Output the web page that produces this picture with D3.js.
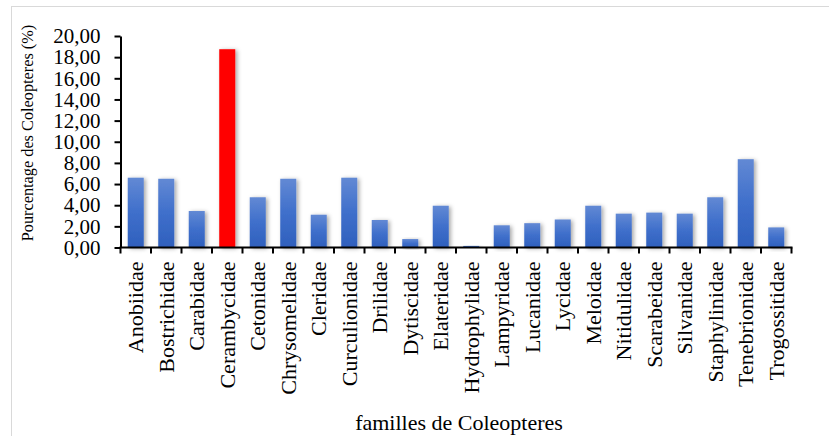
<!DOCTYPE html>
<html><head><meta charset="utf-8">
<script src="https://cdn.jsdelivr.net/npm/d3@7"></script>
<style>html,body{margin:0;padding:0;background:#fff;}svg{display:block;}</style>
</head><body>
<svg id="chart" width="829" height="436"></svg>
<script>
const categories = ["Anobiidae","Bostrichidae","Carabidae","Cerambycidae","Cetonidae","Chrysomelidae","Cleridae","Curculionidae","Drilidae","Dytiscidae","Elateridae","Hydrophylidae","Lampyridae","Lucanidae","Lycidae","Meloidae","Nitidulidae","Scarabeidae","Silvanidae","Staphylinidae","Tenebrionidae","Trogossitidae"];
const values = [6.6,6.5,3.45,18.75,4.75,6.5,3.1,6.6,2.6,0.8,3.95,0.15,2.1,2.3,2.65,3.95,3.2,3.3,3.2,4.75,8.35,1.9];
const highlight = ["Cerambycidae"];
const yTicks = [0,2,4,6,8,10,12,14,16,18,20];
const yTitle = "Pourcentage des Coleopteres (%)";
const xTitle = "familles de Coleopteres";

(function(){
const svg = d3.select("#chart");
const pL = 120.5, pR = 791.5, pT = 36, pB = 247.5;
const font = "'Liberation Serif','Times New Roman',serif";

// outer border
svg.append("rect").attr("x",11.5).attr("y",6.5).attr("width",840).attr("height",440)
  .attr("fill","none").attr("stroke","#d9d9d9").attr("stroke-width",1);

const defs = svg.append("defs");
const grad = defs.append("linearGradient").attr("id","bg").attr("x1",0).attr("y1",0).attr("x2",0).attr("y2",1);
grad.append("stop").attr("offset","0%").attr("stop-color","#6289d4");
grad.append("stop").attr("offset","50%").attr("stop-color","#3f6fcb");
grad.append("stop").attr("offset","100%").attr("stop-color","#2f60bd");
const f = defs.append("filter").attr("id","sh").attr("x","-50%").attr("y","-20%").attr("width","200%").attr("height","140%");
f.append("feDropShadow").attr("dx",2).attr("dy",1).attr("stdDeviation",2).attr("flood-color","#000").attr("flood-opacity",0.35);

const x = d3.scaleBand().domain(categories).range([pL, pR]).paddingInner(0.475).paddingOuter(0.2375);
const y = d3.scaleLinear().domain([0,20]).range([pB, pT]);

const loc = d3.formatLocale({decimal:",", thousands:" ", grouping:[3], currency:["","€"]});
const fmt = loc.format(".2f");

svg.append("g").selectAll("rect").data(categories).join("rect")
  .attr("x", d => x(d))
  .attr("y", (d,i) => y(values[i]))
  .attr("width", x.bandwidth())
  .attr("height", (d,i) => y(0) - y(values[i]))
  .attr("fill", d => highlight.includes(d) ? "#ff0000" : "url(#bg)")
  .attr("filter","url(#sh)");

// y axis
const ya = svg.append("g").attr("transform",`translate(${pL},0)`)
  .call(d3.axisLeft(y).tickValues(yTicks).tickFormat(fmt).tickSize(6).tickPadding(14).tickSizeOuter(0));
ya.select(".domain").attr("stroke","#000").attr("stroke-width",2);
ya.selectAll(".tick line").attr("stroke","#000").attr("stroke-width",2);
ya.selectAll(".tick text").attr("font-family",font).attr("font-size",21).attr("fill","#000");

// x axis with ticks at band boundaries
const xa = svg.append("g").attr("transform",`translate(0,${pB})`);
xa.append("line").attr("x1",pL-1).attr("x2",pR+1).attr("y1",0).attr("y2",0).attr("stroke","#000").attr("stroke-width",2);
const step = x.step();
const bounds = d3.range(categories.length+1).map(i => pL + i*step);
xa.selectAll("line.tk").data(bounds).join("line").attr("class","tk")
  .attr("x1",d=>d).attr("x2",d=>d).attr("y1",0).attr("y2",6).attr("stroke","#000").attr("stroke-width",2);
xa.selectAll("text").data(categories).join("text")
  .attr("transform", d => `translate(${x(d)+x.bandwidth()/2},14) rotate(-90)`)
  .attr("dy","0.35em").attr("text-anchor","end")
  .attr("font-family",font).attr("font-size",22).attr("fill","#000")
  .text(d => d);

// titles
svg.append("text").attr("transform","translate(33,133) rotate(-90)")
  .attr("text-anchor","middle")
  .attr("font-family",font).attr("font-size",16.3).attr("fill","#000")
  .text(yTitle);
svg.append("text").attr("x",459).attr("y",430).attr("text-anchor","middle")
  .attr("font-family",font).attr("font-size",22).attr("fill","#000")
  .text(xTitle);
})();
</script>
</body></html>
